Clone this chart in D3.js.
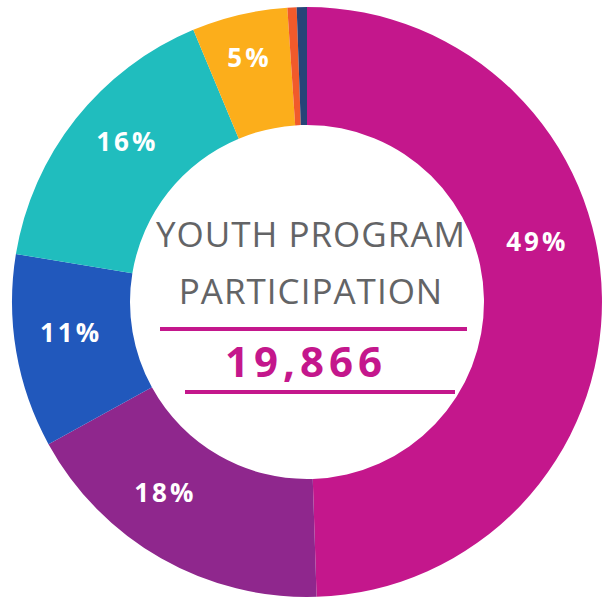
<!DOCTYPE html>
<html>
<head>
<meta charset="utf-8">
<script src="https://cdn.jsdelivr.net/npm/d3@7"></script>
<style>
    body { margin: 0; background: #fff; }
    svg text { font-family: "Open Sans", "Noto Sans", sans-serif; }
</style>
</head>
<body>
<div id="chart"></div>
<script>

// youth program participation, by group
let groups = ["A", "B", "C", "D", "E", "F", "G"];
let counts = [9830, 3480, 2105, 3200, 1040, 100, 111];
let colors = ["#c4178c", "#8f278d", "#2158bc", "#20bdbe", "#fcae1b", "#f15a2b", "#264478"];
let title = ["YOUTH PROGRAM", "PARTICIPATION"];

let width = 605, height = 599;
let cx = 307, cy = 302;
let outerR = 295, innerR = 177;

let svg = d3.select("#chart").append("svg")
    .attr("width", width)
    .attr("height", height);

let g = svg.append("g")
    .attr("transform", `translate(${cx},${cy})`);

let data = groups.map((d, i) => ({group: d, count: counts[i], color: colors[i]}));
let total = d3.sum(counts);

let pie = d3.pie()
    .value(d => d.count)
    .sort(null);

let arc = d3.arc()
    .innerRadius(innerR)
    .outerRadius(outerR);

let arcs = pie(data);

g.selectAll(".slice")
    .data(arcs)
    .enter()
    .append("path")
    .attr("class", "slice")
    .attr("d", arc)
    .attr("fill", d => d.data.color);

// labels sit at about r=238, nudged a little like in the original
let labelR = 238;
let nudge = {A: [-0.24, 0], B: [0.12, 0], C: [0.04, 0], D: [0.06, 3], E: [0, 13]};

g.selectAll(".pct")
    .data(arcs.filter(d => d.data.count / total > 0.03))
    .enter()
    .append("text")
    .attr("class", "pct")
    .attr("transform", d => {
        let n = nudge[d.data.group] || [0, 0];
        let a = (d.startAngle + d.endAngle) / 2 + n[0];
        let r = labelR + n[1];
        return `translate(${r * Math.sin(a)},${-r * Math.cos(a)})`;
    })
    .attr("dy", "0.35em")
    .attr("text-anchor", "middle")
    .attr("fill", "#fff")
    .attr("font-size", 26)
    .attr("font-weight", "bold")
    .attr("letter-spacing", 3)
    .text(d => Math.round(d.data.count / total * 100) + "%");

// centre text
let center = svg.append("g");

center.selectAll(".title")
    .data(title)
    .enter()
    .append("text")
    .attr("class", "title")
    .attr("x", 311)
    .attr("y", (d, i) => 247 + i * 57)
    .attr("text-anchor", "middle")
    .attr("fill", "#636466")
    .attr("font-size", 35)
    .attr("letter-spacing", 1)
    .text(d => d);

center.append("line")
    .attr("x1", 160).attr("x2", 467)
    .attr("y1", 329).attr("y2", 329)
    .attr("stroke", "#c4178c")
    .attr("stroke-width", 4);

center.append("text")
    .attr("x", 306)
    .attr("y", 377)
    .attr("text-anchor", "middle")
    .attr("fill", "#c4178c")
    .attr("font-size", 42)
    .attr("font-weight", "bold")
    .attr("letter-spacing", 5)
    .text(d3.format(",")(total));

center.append("line")
    .attr("x1", 185).attr("x2", 455)
    .attr("y1", 392).attr("y2", 392)
    .attr("stroke", "#c4178c")
    .attr("stroke-width", 4);

</script>
</body>
</html>
